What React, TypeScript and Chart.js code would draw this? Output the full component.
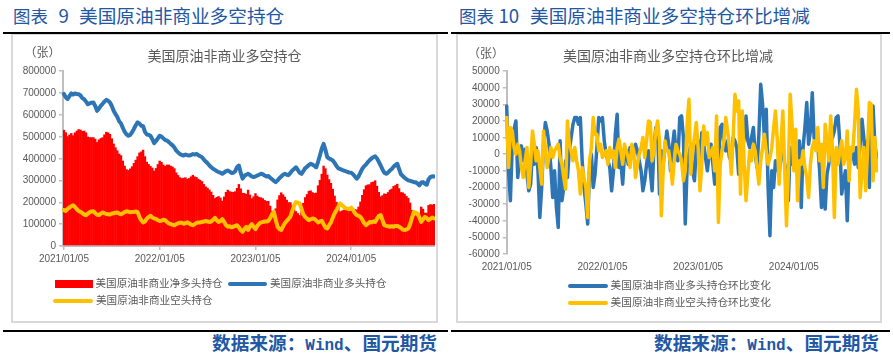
import React, { useEffect, useRef, useState } from "react";
import { Chart, registerables } from "chart.js";

Chart.register(...registerables);

// ---------- data (values in thousands of contracts) ----------
const UNIT = 1000;

// 美国原油非商业多头持仓 (weekly, from 2021/01/05)
const LONG_K = [
  695, 680, 672, 685, 698, 692, 697, 695, 694, 688,
  676, 671, 660, 648, 652, 655, 656, 640, 618, 628,
  641, 650, 660, 668, 664, 656, 640, 618, 603, 590,
  570, 560, 540, 522, 510, 504, 508, 520, 535, 552,
  565, 560, 550, 548, 522, 510, 508, 504, 488, 470,
  480, 492, 504, 500, 492, 484, 482, 475, 467, 460,
  450, 436, 428, 420, 416, 414, 418, 415, 414, 416,
  420, 418, 421, 415, 410, 406, 395, 386, 378, 368,
  360, 353, 348, 342, 338, 335, 330, 336, 342, 345,
  340, 334, 335, 342, 360, 368, 335, 308, 320, 326,
  330, 325, 318, 315, 318, 322, 326, 330, 328, 322,
  318, 320, 312, 305, 298, 292, 300, 310, 318, 326,
  330, 326, 324, 335, 345, 352, 360, 348, 335, 330,
  342, 356, 362, 370, 376, 372, 366, 360, 385, 414,
  445, 467, 440, 406, 400, 396, 391, 380, 366, 355,
  352, 348, 345, 342, 338, 336, 335, 328, 318, 308,
  318, 336, 353, 364, 372, 383, 392, 400, 406, 410,
  400, 385, 368, 350, 335, 330, 336, 345, 352, 362,
  370, 376, 352, 328, 320, 312, 305, 300, 298, 295,
  292, 292, 285, 277, 290, 292, 285, 280, 305, 315,
  319, 318,
];

// 美国原油非商业空头持仓
const SHORT_K = [
  164, 160, 170, 176, 182, 186, 178, 168, 160, 156,
  150, 144, 141, 148, 155, 158, 159, 150, 143, 141,
  148, 153, 150, 146, 145, 144, 148, 150, 152, 153,
  148, 145, 150, 155, 159, 157, 154, 156, 156, 158,
  155, 133, 118, 108, 112, 125, 133, 138, 130, 126,
  124, 118, 114, 116, 120, 118, 110, 103, 100, 97,
  95, 100, 104, 106, 106, 102, 104, 108, 104, 98,
  95, 100, 106, 108, 108, 110, 112, 114, 112, 110,
  112, 120, 129, 118, 110, 114, 123, 110, 95, 88,
  90, 86, 88, 92, 95, 85, 72, 65, 78, 88,
  73, 90, 100, 88, 77, 92, 102, 108, 110, 112,
  112, 114, 128, 145, 156, 120, 88, 78, 73, 90,
  105, 115, 124, 135, 160, 185, 201, 198, 194, 170,
  145, 133, 125, 118, 122, 126, 124, 116, 108, 112,
  115, 100, 85, 80, 95, 108, 130, 150, 164, 180,
  194, 186, 179, 172, 171, 168, 175, 165, 150, 141,
  138, 133, 120, 105, 95, 102, 110, 108, 112, 110,
  125, 138, 141, 118, 95, 92, 90, 88, 90, 88,
  92, 92, 88, 82, 75, 73, 76, 80, 100, 130,
  156, 152, 149, 130, 110, 122, 133, 128, 118, 124,
  130, 126,
];

// 美国原油非商业多头持仓环比变化
const LONG_CHG_K = [
  29, -10, -28, 5, 15, 20, -14, -2, 5, -4,
  3, -12, -22, -18, 2, -6, 4, -10, -38, -20,
  6, 19, 14, 6, -8, -26, -10, -32, -44, 8,
  -28, -20, -4, -14, 2, 10, 18, 22, 22, 18,
  22, -4, -20, -30, -42, -8, 0, -20, -12, 4,
  22, 20, 22, 8, 0, -4, -8, -22, -10, 12,
  24, -8, -4, -18, 0, 2, -6, 4, -2, 0,
  6, 2, -4, -10, -22, -16, -6, 2, -10, -22,
  4, 16, 15, -24, 2, -6, 4, 14, 6, -10,
  4, 14, 2, -4, 22, 23, 10, -42, -8, 0,
  6, -10, -16, 4, 8, -4, 13, 6, -2, -10,
  0, 6, -6, -18, 2, -6, 16, 18, 6, 2,
  8, -2, -4, 10, 8, 4, -12, -6, 2, 10,
  23, 8, 4, 10, 16, 0, -8, 12, 42, 30,
  10, 27, -20, -49, -10, -20, -4, -8, -12, 0,
  2, -6, -10, -28, 4, -6, 2, -4, -10, 8,
  -32, 4, 16, 31, 6, 14, 37, 10, 4, 6,
  -10, -32, -18, -33, -12, -6, 8, 10, 14, 22,
  23, 6, -24, -16, -10, -40, -4, 4, 0, -6,
  4, -8, 6, 21, 10, -6, 8, -20, 14, 29,
  6, -2,
];

// 美国原油非商业空头持仓环比变化
const SHORT_CHG_K = [
  22, -8, 16, 14, 4, 0, 6, 2, -8, -14,
  -4, 4, -20, -6, 14, 6, -4, 2, -8, -18,
  14, 4, -8, -2, 4, -2, 2, 4, 6, -2,
  -6, -14, -21, 20, 6, 2, -4, 4, -4, -10,
  -24, -8, -14, -20, -38, -4, 4, 22, 12, 12,
  2, 6, -2, 0, 2, -6, 4, -2, 2, -8,
  4, 9, 2, -6, 6, 2, -2, -8, 6, 2,
  -14, -6, 0, 4, 10, -2, 8, 20, 19, -4,
  2, 14, 20, 8, -37, -10, 8, 2, 2, -6,
  -18, -4, 6, 2, 0, -4, -16, -10, 18, 33,
  -12, 2, 10, 19, 4, -22, -6, 17, 6, 13,
  -2, 0, 4, -10, 23, -41, -6, 2, 8, 22,
  14, 4, -12, 10, 36, 26, 32, -24, 26, -6,
  -28, -12, 2, -4, 6, 2, -8, -18, -4, 4,
  12, 2, -6, -2, 4, 16, 26, 8, -18, 6,
  26, -8, -43, -10, 36, 18, -10, 15, -28, -4,
  -6, 2, -8, -14, -26, -6, 4, 8, 2, 16,
  -4, 6, -20, 18, 8, -4, 23, 2, -38, 4,
  -6, 2, 8, -6, -2, 14, -16, 4, 2, 18,
  39, 26, -26, -10, 4, -22, 2, 31, 30, -16,
  10, -10,
];

const TICK_INDEX = [0, 52, 104, 156];
const TICK_LABELS = ["2021/01/05", "2022/01/05", "2023/01/05", "2024/01/05"];
const Y1_TICKS = [0, 100000, 200000, 300000, 400000, 500000, 600000, 700000, 800000];
const Y2_TICKS = [-60000, -50000, -40000, -30000, -20000, -10000, 0, 10000, 20000, 30000, 40000, 50000];

const NAMES_1 = ["美国原油非商业净多头持仓", "美国原油非商业多头持仓", "美国原油非商业空头持仓"];
const NAMES_2 = ["美国原油非商业多头持仓环比变化", "美国原油非商业空头持仓环比变化"];

// ---------- style ----------
const FONT = '"Noto Sans CJK SC", "Noto Sans", sans-serif';
const TICK_FONT = '"Liberation Sans", "Noto Sans CJK SC", sans-serif';
const GREY_TEXT = "#595959";
const AXIS_GREY = "#BFBFBF";
const BLUE = "#2E75B6";
const YELLOW = "#FFC000";
const RED = "#FF0000";
const TITLE_BLUE = "#2157A4";

const C1 = { left: 14, top: 35, width: 421, height: 285 };
const C2 = { left: 459, top: 35, width: 419, height: 285 };

function weeklyLabels(n: number): string[] {
  const out: string[] = [];
  const d0 = Date.UTC(2021, 0, 5);
  const pad = (x: number) => (x < 10 ? "0" + x : String(x));
  for (let i = 0; i < n; i++) {
    const d = new Date(d0 + i * 7 * 86400000);
    out.push(`${d.getUTCFullYear()}/${pad(d.getUTCMonth() + 1)}/${pad(d.getUTCDate())}`);
  }
  return out;
}
const DATES = weeklyLabels(LONG_K.length);

function xAxis(withLine: boolean, offset: boolean) {
  return {
    type: "category",
    offset,
    afterBuildTicks: (axis: any) => {
      axis.ticks = TICK_INDEX.map((v) => ({ value: v }));
    },
    afterFit: (axis: any) => {
      axis.height = 20;
    },
    ticks: {
      autoSkip: false,
      maxRotation: 0,
      minRotation: 0,
      padding: withLine ? 3 : 7,
      color: GREY_TEXT,
      font: { family: TICK_FONT, size: 10 },
      callback: (_v: any, i: number) => TICK_LABELS[i],
    },
    grid: {
      display: withLine,
      drawOnChartArea: false,
      drawTicks: withLine,
      tickLength: 4,
      color: AXIS_GREY,
      lineWidth: 1.5,
      offset: false,
    },
    border: { display: withLine, color: AXIS_GREY, width: 2 },
  };
}

function yAxis(tickValues: number[], width: number) {
  return {
    type: "linear",
    min: tickValues[0],
    max: tickValues[tickValues.length - 1],
    afterBuildTicks: (axis: any) => {
      axis.ticks = tickValues.map((v) => ({ value: v }));
    },
    afterFit: (axis: any) => {
      axis.width = width;
    },
    ticks: { display: false, autoSkip: false },
    grid: { drawOnChartArea: false, drawTicks: true, tickLength: 4, color: AXIS_GREY, lineWidth: 1.5 },
    border: { display: true, color: AXIS_GREY, width: 2 },
  };
}

const lineStyle = (color: string, width: number, order: number) => ({
  type: "line",
  borderColor: color,
  backgroundColor: color,
  borderWidth: width,
  pointRadius: 0,
  tension: 0,
  borderJoinStyle: "round",
  borderCapStyle: "round",
  fill: false,
  order,
});

const basePlugins = { legend: { display: false }, title: { display: false }, tooltip: { enabled: false } };

function config1(): any {
  const net = LONG_K.map((v, i) => (v - SHORT_K[i]) * UNIT);
  return {
    type: "bar",
    data: {
      labels: DATES,
      datasets: [
        {
          type: "bar",
          label: NAMES_1[0],
          data: net,
          backgroundColor: RED,
          borderWidth: 0,
          barPercentage: 1.3,
          categoryPercentage: 1,
          order: 3,
        },
        { ...lineStyle(BLUE, 4, 2), label: NAMES_1[1], data: LONG_K.map((v) => v * UNIT) },
        { ...lineStyle(YELLOW, 4, 1), label: NAMES_1[2], data: SHORT_K.map((v) => v * UNIT) },
      ],
    },
    options: {
      responsive: false,
      animation: false,
      devicePixelRatio: 1,
      events: [],
      layout: { padding: { left: 0, right: 0, top: 36, bottom: 54 } },
      plugins: basePlugins,
      scales: { x: xAxis(true, true), y: yAxis(Y1_TICKS, 49) },
    },
  };
}

function config2(): any {
  return {
    type: "line",
    data: {
      labels: DATES,
      datasets: [
        { ...lineStyle(BLUE, 3.5, 1), label: NAMES_2[0], data: LONG_CHG_K.map((v) => v * UNIT) },
        { ...lineStyle(YELLOW, 3.5, 0), label: NAMES_2[1], data: SHORT_CHG_K.map((v) => v * UNIT) },
      ],
    },
    options: {
      responsive: false,
      animation: false,
      devicePixelRatio: 1,
      events: [],
      layout: { padding: { left: 0, right: 1.3, top: 36, bottom: 46 } },
      plugins: basePlugins,
      scales: { x: xAxis(false, false), y: yAxis(Y2_TICKS, 47.7) },
    },
  };
}

type TickPos = { v: number; px: number; right: number };

function ChartCanvas(props: {
  make: () => any;
  box: { left: number; top: number; width: number; height: number };
  ticks: number[];
}) {
  const ref = useRef<HTMLCanvasElement>(null);
  const [pos, setPos] = useState<TickPos[]>([]);
  useEffect(() => {
    const chart = new Chart(ref.current as HTMLCanvasElement, props.make());
    const s: any = chart.scales.y;
    setPos(props.ticks.map((v) => ({ v, px: s.getPixelForValue(v), right: s.right })));
    return () => chart.destroy();
  }, []);
  const b = props.box;
  return (
    <>
      <canvas
        ref={ref}
        width={b.width}
        height={b.height}
        style={{ position: "absolute", left: b.left, top: b.top, width: b.width, height: b.height }}
      />
      {pos.map((p) => (
        <div
          key={p.v}
          style={{
            position: "absolute",
            right: 893 - (b.left + p.right - 7),
            top: b.top + p.px - 6,
            height: 12,
            lineHeight: "12px",
            fontSize: 10,
            fontFamily: TICK_FONT,
            color: GREY_TEXT,
            whiteSpace: "nowrap",
          }}
        >
          {String(p.v)}
        </div>
      ))}
    </>
  );
}

function Txt(props: {
  x: number;
  cy: number;
  size: number;
  color: string;
  align?: "left" | "center" | "right";
  weight?: number | string;
  children: React.ReactNode;
}) {
  const align = props.align || "left";
  const style: React.CSSProperties = {
    position: "absolute",
    top: props.cy - 0.555 * props.size,
    fontSize: props.size,
    lineHeight: props.size + "px",
    color: props.color,
    fontFamily: FONT,
    fontWeight: props.weight || 400,
    whiteSpace: "nowrap",
  };
  if (align === "left") style.left = props.x;
  else if (align === "right") style.right = 893 - props.x;
  else {
    style.left = props.x;
    style.transform = "translateX(-50%)";
  }
  return <div style={style}>{props.children}</div>;
}

function Rect(props: { x: number; y: number; w: number; h: number; color: string; radius?: number }) {
  return (
    <div
      style={{
        position: "absolute",
        left: props.x,
        top: props.y,
        width: props.w,
        height: props.h,
        background: props.color,
        borderRadius: props.radius || 0,
      }}
    />
  );
}

function Box(props: { x: number; y: number; w: number; h: number }) {
  return (
    <div
      style={{
        position: "absolute",
        left: props.x,
        top: props.y,
        width: props.w,
        height: props.h,
        border: "2px solid #D9D9D9",
        boxSizing: "border-box",
      }}
    />
  );
}

function Footer(props: { right: number }) {
  return (
    <Txt x={props.right} cy={343.3} size={18.67} color={TITLE_BLUE} align="right" weight={700}>
      数据来源：
      <span style={{ fontFamily: '"Liberation Mono", monospace', fontSize: 16 }}>Wind</span>
      、国元期货
    </Txt>
  );
}

export default function App() {
  return (
    <div
      style={{
        position: "absolute",
        left: 0,
        top: 0,
        width: 893,
        height: 355,
        background: "#ffffff",
        overflow: "hidden",
        fontFamily: FONT,
      }}
    >
      {/* panel frames */}
      <Box x={11} y={33} w={427} h={290} />
      <Box x={456} y={33} w={426} h={290} />
      <Rect x={3} y={32} w={445} h={2} color="#000000" />
      <Rect x={451} y={32} w={439} h={2} color="#000000" />
      <Rect x={3} y={330} w={445} h={2} color="#000000" />
      <Rect x={451} y={330} w={439} h={2} color="#000000" />

      {/* figure titles */}
      <Txt x={13} cy={16.7} size={17.4} color={TITLE_BLUE}>图表</Txt>
      <Txt x={58.5} cy={16.7} size={18.67} color={TITLE_BLUE}>9</Txt>
      <Txt x={79} cy={16.7} size={18.67} color={TITLE_BLUE}>美国原油非商业多空持仓</Txt>
      <Txt x={459} cy={16.7} size={17.4} color={TITLE_BLUE}>图表</Txt>
      <Txt x={498.5} cy={16.7} size={18.67} color={TITLE_BLUE}>10</Txt>
      <Txt x={530} cy={16.7} size={18.67} color={TITLE_BLUE}>美国原油非商业多空持仓环比增减</Txt>

      {/* charts */}
      <ChartCanvas make={config1} box={C1} ticks={Y1_TICKS} />
      <ChartCanvas make={config2} box={C2} ticks={Y2_TICKS} />

      {/* inner titles and units */}
      <Txt x={224.5} cy={56} size={14} color={GREY_TEXT} align="center">美国原油非商业多空持仓</Txt>
      <Txt x={668} cy={56} size={14} color={GREY_TEXT} align="center">美国原油非商业多空持仓环比增减</Txt>
      <Txt x={24.5} cy={53} size={12} color={GREY_TEXT}>（张）</Txt>
      <Txt x={468} cy={54} size={12} color={GREY_TEXT}>（张）</Txt>

      {/* legend 1 */}
      <Rect x={55} y={280} w={38} h={8} color={RED} />
      <Txt x={95.5} cy={284} size={10.6} color={GREY_TEXT}>{NAMES_1[0]}</Txt>
      <Rect x={228} y={282} w={39} h={4} color={BLUE} radius={2} />
      <Txt x={270} cy={284} size={10.6} color={GREY_TEXT}>{NAMES_1[1]}</Txt>
      <Rect x={53} y={299} w={40} h={4} color={YELLOW} radius={2} />
      <Txt x={96} cy={301} size={10.6} color={GREY_TEXT}>{NAMES_1[2]}</Txt>

      {/* legend 2 */}
      <Rect x={568} y={284} w={40} h={4} color={BLUE} radius={2} />
      <Txt x={610.5} cy={286} size={10.7} color={GREY_TEXT}>{NAMES_2[0]}</Txt>
      <Rect x={568} y={301} w={40} h={4} color={YELLOW} radius={2} />
      <Txt x={610.5} cy={303} size={10.7} color={GREY_TEXT}>{NAMES_2[1]}</Txt>

      {/* sources */}
      <Footer right={437} />
      <Footer right={879} />
    </div>
  );
}
